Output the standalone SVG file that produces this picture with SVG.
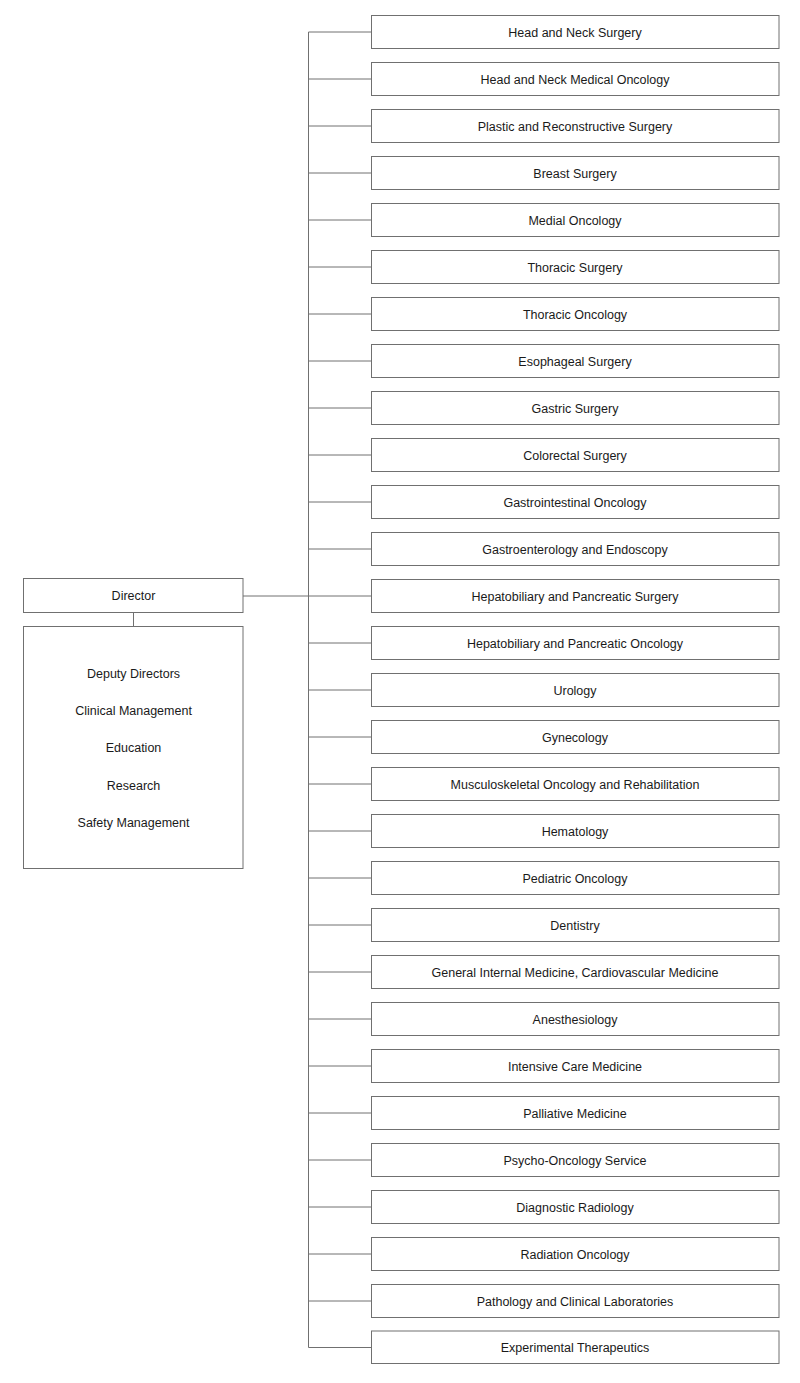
<svg xmlns="http://www.w3.org/2000/svg" width="800" height="1383" viewBox="0 0 800 1383">
<style>
.b{fill:#fff;stroke:#707070;stroke-width:1}
.t{font-family:"Liberation Sans",Arial,sans-serif;font-size:12.5px;fill:#1a1a1a;text-anchor:middle;dominant-baseline:central}
.c{fill:none;stroke:#707070;stroke-width:1}
</style>
<rect width="800" height="1383" fill="#fff"/>
<g id="connectors">
<path class="c" d="M308.5 32V1347.5M243 596H308.5M133.5 613V626"/>
<path class="c" d="M308.5 32H371M308.5 79H371M308.5 126H371M308.5 173H371M308.5 220H371M308.5 267H371M308.5 314H371M308.5 361H371M308.5 408H371M308.5 455H371M308.5 502H371M308.5 549H371M308.5 596H371M308.5 643H371M308.5 690H371M308.5 737H371M308.5 784H371M308.5 831H371M308.5 878H371M308.5 925H371M308.5 972H371M308.5 1019H371M308.5 1066H371M308.5 1113H371M308.5 1160H371M308.5 1207H371M308.5 1254H371M308.5 1301H371M308.5 1347.5H371"/>
</g>
<g id="director"><rect class="b" x="23.5" y="578.5" width="219.5" height="34"/><text class="t" x="133.5" y="596">Director</text></g>
<g id="deputies"><rect class="b" x="23.5" y="626.5" width="219.5" height="242"/>
<text class="t" x="133.5" y="673.5">Deputy Directors</text>
<text class="t" x="133.5" y="710.5">Clinical Management</text>
<text class="t" x="133.5" y="748">Education</text>
<text class="t" x="133.5" y="785.5">Research</text>
<text class="t" x="133.5" y="822.5">Safety Management</text>
</g>
<g id="n1"><rect class="b" x="371.5" y="15.5" width="407.5" height="33"/><text class="t" x="575" y="32.5">Head and Neck Surgery</text></g>
<g id="n2"><rect class="b" x="371.5" y="62.5" width="407.5" height="33"/><text class="t" x="575" y="79.5">Head and Neck Medical Oncology</text></g>
<g id="n3"><rect class="b" x="371.5" y="109.5" width="407.5" height="33"/><text class="t" x="575" y="126.5">Plastic and Reconstructive Surgery</text></g>
<g id="n4"><rect class="b" x="371.5" y="156.5" width="407.5" height="33"/><text class="t" x="575" y="173.5">Breast Surgery</text></g>
<g id="n5"><rect class="b" x="371.5" y="203.5" width="407.5" height="33"/><text class="t" x="575" y="220.5">Medial Oncology</text></g>
<g id="n6"><rect class="b" x="371.5" y="250.5" width="407.5" height="33"/><text class="t" x="575" y="267.5">Thoracic Surgery</text></g>
<g id="n7"><rect class="b" x="371.5" y="297.5" width="407.5" height="33"/><text class="t" x="575" y="314.5">Thoracic Oncology</text></g>
<g id="n8"><rect class="b" x="371.5" y="344.5" width="407.5" height="33"/><text class="t" x="575" y="361.5">Esophageal Surgery</text></g>
<g id="n9"><rect class="b" x="371.5" y="391.5" width="407.5" height="33"/><text class="t" x="575" y="408.5">Gastric Surgery</text></g>
<g id="n10"><rect class="b" x="371.5" y="438.5" width="407.5" height="33"/><text class="t" x="575" y="455.5">Colorectal Surgery</text></g>
<g id="n11"><rect class="b" x="371.5" y="485.5" width="407.5" height="33"/><text class="t" x="575" y="502.5">Gastrointestinal Oncology</text></g>
<g id="n12"><rect class="b" x="371.5" y="532.5" width="407.5" height="33"/><text class="t" x="575" y="549.5">Gastroenterology and Endoscopy</text></g>
<g id="n13"><rect class="b" x="371.5" y="579.5" width="407.5" height="33"/><text class="t" x="575" y="596.5">Hepatobiliary and Pancreatic Surgery</text></g>
<g id="n14"><rect class="b" x="371.5" y="626.5" width="407.5" height="33"/><text class="t" x="575" y="643.5">Hepatobiliary and Pancreatic Oncology</text></g>
<g id="n15"><rect class="b" x="371.5" y="673.5" width="407.5" height="33"/><text class="t" x="575" y="690.5">Urology</text></g>
<g id="n16"><rect class="b" x="371.5" y="720.5" width="407.5" height="33"/><text class="t" x="575" y="737.5">Gynecology</text></g>
<g id="n17"><rect class="b" x="371.5" y="767.5" width="407.5" height="33"/><text class="t" x="575" y="784.5">Musculoskeletal Oncology and Rehabilitation</text></g>
<g id="n18"><rect class="b" x="371.5" y="814.5" width="407.5" height="33"/><text class="t" x="575" y="831.5">Hematology</text></g>
<g id="n19"><rect class="b" x="371.5" y="861.5" width="407.5" height="33"/><text class="t" x="575" y="878.5">Pediatric Oncology</text></g>
<g id="n20"><rect class="b" x="371.5" y="908.5" width="407.5" height="33"/><text class="t" x="575" y="925.5">Dentistry</text></g>
<g id="n21"><rect class="b" x="371.5" y="955.5" width="407.5" height="33"/><text class="t" x="575" y="972.5">General Internal Medicine, Cardiovascular Medicine</text></g>
<g id="n22"><rect class="b" x="371.5" y="1002.5" width="407.5" height="33"/><text class="t" x="575" y="1019.5">Anesthesiology</text></g>
<g id="n23"><rect class="b" x="371.5" y="1049.5" width="407.5" height="33"/><text class="t" x="575" y="1066.5">Intensive Care Medicine</text></g>
<g id="n24"><rect class="b" x="371.5" y="1096.5" width="407.5" height="33"/><text class="t" x="575" y="1113.5">Palliative Medicine</text></g>
<g id="n25"><rect class="b" x="371.5" y="1143.5" width="407.5" height="33"/><text class="t" x="575" y="1160.5">Psycho-Oncology Service</text></g>
<g id="n26"><rect class="b" x="371.5" y="1190.5" width="407.5" height="33"/><text class="t" x="575" y="1207.5">Diagnostic Radiology</text></g>
<g id="n27"><rect class="b" x="371.5" y="1237.5" width="407.5" height="33"/><text class="t" x="575" y="1254.5">Radiation Oncology</text></g>
<g id="n28"><rect class="b" x="371.5" y="1284.5" width="407.5" height="33"/><text class="t" x="575" y="1301.5">Pathology and Clinical Laboratories</text></g>
<g id="n29"><rect class="b" x="371.5" y="1331" width="407.5" height="32.5"/><text class="t" x="575" y="1348">Experimental Therapeutics</text></g>
</svg>
